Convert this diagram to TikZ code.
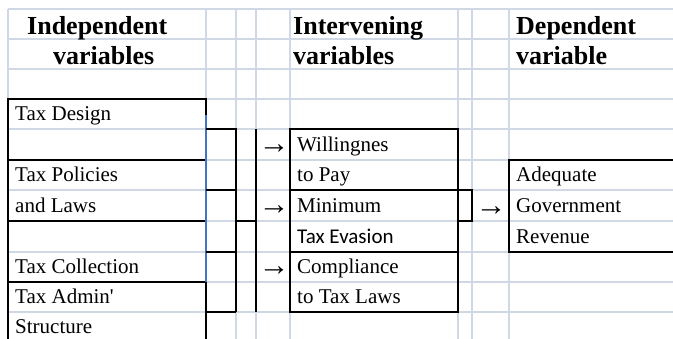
\documentclass[tikz,border=0pt]{standalone}
\usepackage{fontspec}
\setmainfont{Liberation Serif}[BoldFont={Liberation Serif Bold}]
\newfontfamily\calibri{Carlito}
\definecolor{gridgray}{HTML}{D0D7E5}
\definecolor{selblue}{HTML}{4472C4}
\begin{document}
\begin{tikzpicture}[x=1pt,y=-1pt,
    gridline/.style={gridgray,line width=1.5pt},
    border/.style={black,line width=2pt},
    cell/.style={anchor=base west,inner sep=0pt,font=\fontsize{21}{25}\selectfont},
    head/.style={anchor=base west,inner sep=0pt,font=\fontsize{26}{30}\selectfont\bfseries},
    arr/.style={inner sep=0pt,font=\fontsize{31}{36}\selectfont}]
    \useasboundingbox (0,0) rectangle (673,339);
    \fill[white] (0,0) rectangle (673,339);
    %% sheet grid
    \foreach \gx in {8,206,236,256,290,458,472,509}
        \draw[gridline] (\gx,9) -- (\gx,339);
    \foreach \gy in {9,39,69,99,129,160,190,221,252,282,312}
        \draw[gridline] (8,\gy) -- (673,\gy);
    %% headings
    \node[head] (indep1) at (27,35) {Independent};
    \node[head] (indep2) at (53,65) {variables};
    \node[head] (inter1) at (293,35) {Intervening};
    \node[head] (inter2) at (293,65) {variables};
    \node[head] (dep1) at (516,35) {Dependent};
    \node[head] (dep2) at (516,65) {variable};
    %% independent boxes
    \draw[border] (8,99) rectangle (206,160);
    \draw[border] (8,160) rectangle (206,221);
    \draw[border] (8,221) rectangle (206,282);
    \draw[border] (8,339) -- (8,282) -- (206,282) -- (206,339);
    \draw[selblue,line width=2pt] (206,115) -- (206,282);
    \node[cell] (design) at (15,121) {Tax Design};
    \node[cell] (policy1) at (15,182) {Tax Policies};
    \node[cell] (policy2) at (15,213) {and Laws};
    \node[cell] (collect) at (15,274) {Tax Collection};
    \node[cell] (admin1) at (15,304) {Tax Admin\textquotesingle};
    \node[cell] (admin2) at (15,334) {Structure};
    %% bracket cells
    \draw[border] (206,129) -- (236,129) -- (236,312);
    \draw[border] (206,190) -- (236,190);
    \draw[border] (206,252) -- (236,252);
    \draw[border] (206,312) -- (236,312);
    \draw[border] (256,129) -- (256,312);
    \draw[border] (236,221) -- (256,221);
    \node[arr] (arrA) at (274,149) {→};
    \node[arr] (arrB) at (274,210) {→};
    \node[arr] (arrC) at (274,271) {→};
    %% intervening boxes
    \draw[border] (290,129) rectangle (458,190);
    \draw[border] (290,190) rectangle (458,252);
    \draw[border] (290,252) rectangle (458,312);
    \node[cell] (will1) at (297,152) {Willingnes};
    \node[cell] (will2) at (297,182) {to Pay};
    \node[cell] (evade1) at (297,213) {Minimum};
    \node[cell,font=\fontsize{21}{25}\calibri] (evade2) at (297,244) {Tax Evasion};
    \node[cell] (comply1) at (297,274) {Compliance};
    \node[cell] (comply2) at (297,304) {to Tax Laws};
    %% dependent box
    \draw[border] (458,190) -- (472,190) -- (472,221) -- (458,221);
    \node[arr] (arrD) at (491,211) {→};
    \draw[border] (673,160) -- (509,160) -- (509,252) -- (673,252);
    \node[cell] (rev1) at (516,182) {Adequate};
    \node[cell] (rev2) at (516,213) {Government};
    \node[cell] (rev3) at (516,244) {Revenue};
\end{tikzpicture}
\end{document}
